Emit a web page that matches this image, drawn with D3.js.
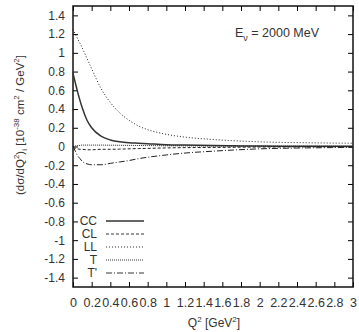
<!DOCTYPE html>
<html>
<head>
<meta charset="utf-8">
<script src="https://cdn.jsdelivr.net/npm/d3@7"></script>
<style>
  body { margin: 0; background: #fff; }
  text { font-family: "Liberation Sans", Arial, sans-serif; fill: #333; }
</style>
</head>
<body>
<script>
// values
var q2 = [0, 0.025, 0.05, 0.075, 0.1, 0.15, 0.2, 0.3, 0.4, 0.5, 0.6, 0.7, 0.8, 1.0, 1.2, 1.5, 2.0, 2.5, 3.0];
var cc = [0.78, 0.68, 0.58, 0.49, 0.41, 0.28, 0.2, 0.11, 0.07, 0.05, 0.04, 0.035, 0.03, 0.02, 0.015, 0.01, 0.005, 0.003, 0.002];
var cl = [-0.01, -0.02, -0.025, -0.03, -0.03, -0.035, -0.035, -0.03, -0.03, -0.028, -0.025, -0.022, -0.02, -0.015, -0.012, -0.01, -0.006, -0.004, -0.003];
var ll = [1.25, 1.2, 1.15, 1.1, 1.05, 0.94, 0.83, 0.62, 0.47, 0.36, 0.28, 0.22, 0.18, 0.13, 0.1, 0.075, 0.05, 0.04, 0.035];
var t = [0.0, 0.005, 0.01, 0.012, 0.015, 0.015, 0.015, 0.015, 0.014, 0.013, 0.012, 0.011, 0.01, 0.008, 0.007, 0.005, 0.004, 0.003, 0.002];
var tp = [0, -0.05, -0.1, -0.13, -0.16, -0.185, -0.195, -0.195, -0.18, -0.165, -0.15, -0.13, -0.115, -0.09, -0.07, -0.05, -0.025, -0.015, -0.01];

var seriesNames = ['CC', 'CL', 'LL', 'T', "T'"];
var seriesValues = [cc, cl, ll, t, tp];
var dashes = [null, '3,2', '1,2', '1,1', '6,2,1,2'];

var xTicks = d3.range(0, 3.0001, 0.2);
var yTicks = d3.range(-1.4, 1.4001, 0.2);

var width = 359, height = 332;
var margin = { left: 73, right: 6, top: 6, bottom: 45 };

var svg = d3.select('body').append('svg')
  .attr('width', width)
  .attr('height', height);

var x = d3.scaleLinear().domain([0, 3]).range([margin.left, width - margin.right]);
var y = d3.scaleLinear().domain([-1.5, 1.5]).range([height - margin.bottom, margin.top]);

function fmt(d) {
  var r = Math.round(d * 10) / 10;
  return Math.abs(r) < 1e-9 ? '0' : String(r);
}

// axes with inward ticks, mirrored on all four sides
svg.append('g')
  .attr('transform', 'translate(0,' + y.range()[0] + ')')
  .call(d3.axisBottom(x).tickValues(xTicks).tickSizeInner(-5).tickSizeOuter(0).tickPadding(11).tickFormat(fmt))
  .call(function (g) {
    g.select('.domain').remove();
    g.selectAll('text').style('font-size', '12.5px').attr('fill', '#333');
  });

svg.append('g')
  .attr('transform', 'translate(0,' + y.range()[1] + ')')
  .call(d3.axisTop(x).tickValues(xTicks).tickSizeInner(-5).tickSizeOuter(0).tickFormat(''))
  .call(function (g) { g.select('.domain').remove(); });

svg.append('g')
  .attr('transform', 'translate(' + x.range()[0] + ',0)')
  .call(d3.axisLeft(y).tickValues(yTicks).tickSizeInner(-5).tickSizeOuter(0).tickPadding(8).tickFormat(fmt))
  .call(function (g) {
    g.select('.domain').remove();
    g.selectAll('text').style('font-size', '12px').attr('fill', '#333');
  });

svg.append('g')
  .attr('transform', 'translate(' + x.range()[1] + ',0)')
  .call(d3.axisRight(y).tickValues(yTicks).tickSizeInner(-5).tickSizeOuter(0).tickFormat(''))
  .call(function (g) { g.select('.domain').remove(); });

svg.append('rect')
  .attr('x', x.range()[0])
  .attr('y', y.range()[1])
  .attr('width', x.range()[1] - x.range()[0])
  .attr('height', y.range()[0] - y.range()[1])
  .attr('fill', 'none')
  .attr('stroke', '#111')
  .attr('stroke-width', 1.5);

// curves
var line = d3.line()
  .x(function (d) { return x(d[0]); })
  .y(function (d) { return y(d[1]); })
  .curve(d3.curveMonotoneX);

seriesValues.forEach(function (vals, i) {
  svg.append('path')
    .datum(q2.map(function (q, j) { return [q, vals[j]]; }))
    .attr('d', line)
    .attr('fill', 'none')
    .attr('stroke', i === 0 ? '#333' : '#222')
    .attr('stroke-width', i === 0 ? 1.5 : 1)
    .attr('stroke-dasharray', dashes[i]);
});

// legend
var legend = svg.append('g');
seriesNames.forEach(function (name, i) {
  var ly = 221 + i * 13;
  legend.append('text')
    .attr('x', 97)
    .attr('y', ly + 4)
    .attr('text-anchor', 'end')
    .style('font-size', '12px')
    .text(name);
  legend.append('line')
    .attr('x1', 106).attr('x2', 144)
    .attr('y1', ly).attr('y2', ly)
    .attr('stroke', '#333')
    .attr('stroke-width', i === 0 ? 1.5 : 1)
    .attr('stroke-dasharray', dashes[i]);
});

// title
var title = svg.append('text')
  .attr('x', 235)
  .attr('y', 37)
  .style('font-size', '12.5px');
title.append('tspan').text('E');
title.append('tspan').attr('dy', 4).style('font-size', '9px').text('ν');
title.append('tspan').attr('dy', -4).text(' = 2000 MeV');

// axis titles
var xt = svg.append('text')
  .attr('x', 214)
  .attr('y', 327)
  .attr('text-anchor', 'middle')
  .style('font-size', '12px');
xt.append('tspan').text('Q');
xt.append('tspan').attr('dy', -5).style('font-size', '8px').text('2');
xt.append('tspan').attr('dy', 5).text(' [GeV');
xt.append('tspan').attr('dy', -5).style('font-size', '8px').text('2');
xt.append('tspan').attr('dy', 5).text(']');

var yt = svg.append('text')
  .attr('transform', 'translate(24,125) rotate(-90)')
  .attr('text-anchor', 'middle')
  .style('font-size', '11.5px');
yt.append('tspan').text('(dσ/dQ');
yt.append('tspan').attr('dy', -5).style('font-size', '8px').text('2');
yt.append('tspan').attr('dy', 5).text(')');
yt.append('tspan').attr('dy', 3).style('font-size', '8px').text('i');
yt.append('tspan').attr('dy', -3).text(' [10');
yt.append('tspan').attr('dy', -5).style('font-size', '8px').text('-38');
yt.append('tspan').attr('dy', 5).text(' cm');
yt.append('tspan').attr('dy', -5).style('font-size', '8px').text('2');
yt.append('tspan').attr('dy', 5).text(' / GeV');
yt.append('tspan').attr('dy', -5).style('font-size', '8px').text('2');
yt.append('tspan').attr('dy', 5).text(']');
</script>
</body>
</html>
